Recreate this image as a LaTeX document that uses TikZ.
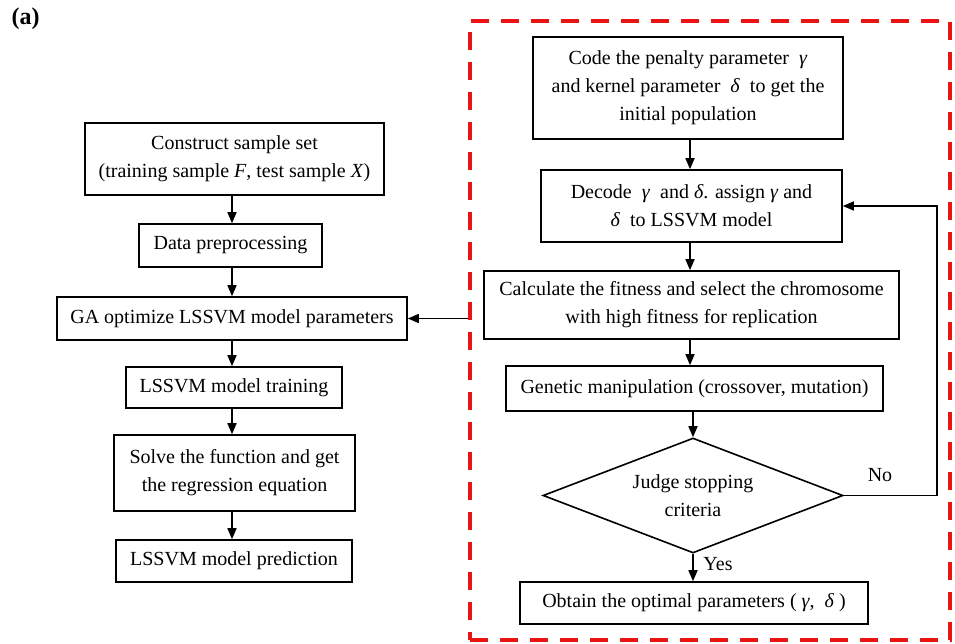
\documentclass[tikz,border=0pt]{standalone}
\usepackage{fontspec}
\setmainfont{Liberation Serif}
\usetikzlibrary{arrows.meta,shapes.geometric}
\definecolor{dashred}{RGB}{235,20,20}
\begin{document}
\begin{tikzpicture}[x=1pt,y=-1pt,
  txt/.style={font=\fontsize{20}{28}\selectfont, align=center},
  box/.style={txt, draw, line width=1.6pt, inner sep=0pt},
  arr/.style={line width=1.6pt, -{Triangle[length=11pt,width=9pt]}},
  redbox/.style={draw=dashred, line width=3.4pt, dash pattern=on 18pt off 12pt, inner sep=0pt}
]
\useasboundingbox (0,0) rectangle (955,644);

\node[font=\fontsize{24}{28}\selectfont\bfseries, anchor=west] (lab) at (8,19) {(a)};

% red dashed region
\node[redbox, minimum width=480pt, minimum height=619pt] (region) at (710,330.5) {};

% right column
\node[box, minimum width=310pt, minimum height=102pt] (code) at (688,88)
  {Code the penalty parameter \ \textit{γ}\\and kernel parameter \ \textit{δ} \ to get the\\initial population};
\node[box, minimum width=301pt, minimum height=72pt] (decode) at (691.5,206)
  {Decode \ \textit{γ} \ and \textit{δ}. assign \textit{γ} and\\\textit{δ} \ to LSSVM model};
\node[box, minimum width=415pt, minimum height=68pt] (calc) at (691.5,305)
  {Calculate the fitness and select the chromosome\\with high fitness for replication};
\node[box, minimum width=377pt, minimum height=45pt] (gen) at (694.5,388.5)
  {Genetic manipulation (crossover, mutation)};
\node[diamond, draw, line width=1.6pt, minimum width=300pt, minimum height=115pt, inner sep=0pt,
  label={[txt]center:Judge stopping\\criteria}] (judge) at (693,495.5) {};
\node[box, minimum width=348pt, minimum height=42pt] (obtain) at (694,603)
  {Obtain the optimal parameters ( \textit{γ}, \ \textit{δ} )};

\coordinate (rc) at (690,0);
\coordinate (fb) at (937,0);
\draw[arr] (code.south -| rc) -- (decode.north -| rc);
\draw[arr] (decode.south -| rc) -- (calc.north -| rc);
\draw[arr] (calc.south -| rc) -- (gen.north -| rc);
\draw[arr] (gen.south -| judge) -- (judge.north);
\draw[arr] (judge.south) -- (obtain.north -| judge);
\draw[arr] (judge.east) -- (judge.east -| fb) |- (decode.east);
\node[txt, anchor=center] (no) at (880,475) {No};
\node[txt, anchor=center] (yes) at (718,564) {Yes};

% left column
\node[box, minimum width=299pt, minimum height=72pt] (construct) at (234.5,159)
  {Construct sample set\\(training sample \textit{F}, test sample \textit{X})};
\node[box, minimum width=183pt, minimum height=43pt] (data) at (230.5,245.5)
  {Data preprocessing};
\node[box, minimum width=350pt, minimum height=43pt] (ga) at (232,318.5)
  {GA optimize LSSVM model parameters};
\node[box, minimum width=216pt, minimum height=41pt] (train) at (234,387.5)
  {LSSVM model training};
\node[box, minimum width=241pt, minimum height=76pt] (solve) at (234.5,473)
  {Solve the function and get\\the regression equation};
\node[box, minimum width=236pt, minimum height=42pt] (pred) at (234,561)
  {LSSVM model prediction};

\coordinate (lc) at (232,0);
\draw[arr] (construct.south -| lc) -- (data.north -| lc);
\draw[arr] (data.south -| lc) -- (ga.north -| lc);
\draw[arr] (ga.south -| lc) -- (train.north -| lc);
\draw[arr] (train.south -| lc) -- (solve.north -| lc);
\draw[arr] (solve.south -| lc) -- (pred.north -| lc);

\draw[arr] (region.west |- ga.east) -- (ga.east);
\end{tikzpicture}
\end{document}
